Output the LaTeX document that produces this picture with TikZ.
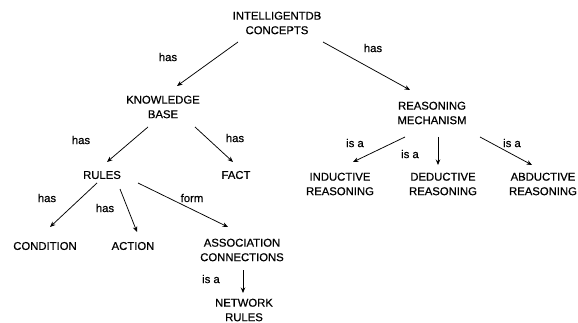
\documentclass[tikz,border=0pt]{standalone}
\usepackage{fontspec}
\setmainfont[FakeBold=0.6]{Liberation Sans}
\usetikzlibrary{arrows.meta}

\begin{document}
\begin{tikzpicture}[
    x=1pt, y=-1pt,
    >=Stealth,
    concept/.style={
        font=\fontsize{11.3}{14.5}\selectfont,
        align=center,
        inner sep=0pt
    },
    rel/.style={font=\fontsize{11.3}{13}\selectfont, inner sep=0pt},
    arrow/.style={-{Stealth[length=5.5pt,width=4.5pt]}, line width=0.75pt, color=black}
]
\useasboundingbox (0,0) rectangle (578,323);

% top of the tree
\node[concept] (concepts) at (277,23) {INTELLIGENTDB\\CONCEPTS};

\node[concept] (kb) at (163,107) {KNOWLEDGE\\BASE};
\node[concept] (rm) at (432,113) {REASONING\\MECHANISM};

% knowledge base side
\node[concept] (rules) at (102,175) {RULES};
\node[concept] (fact) at (236,175) {FACT};
\node[concept] (cond) at (45,246) {CONDITION};
\node[concept] (action) at (133,246) {ACTION};
\node[concept] (assoc) at (242,250) {ASSOCIATION\\CONNECTIONS};
\node[concept] (network) at (244,310) {NETWORK\\RULES};

% reasoning side
\node[concept] (induct) at (340,184) {INDUCTIVE\\REASONING};
\node[concept] (deduct) at (443,184) {DEDUCTIVE\\REASONING};
\node[concept] (abduct) at (543,184) {ABDUCTIVE\\REASONING};

% relation labels
\node[rel] (hasA) at (168,57) {has};
\node[rel] (hasB) at (373,48) {has};
\node[rel] (hasC) at (81,140) {has};
\node[rel] (hasD) at (235,138) {has};
\node[rel] (hasE) at (47,198) {has};
\node[rel] (hasF) at (105,208) {has};
\node[rel] (form) at (192,198) {form};
\node[rel] (isaA) at (211,279) {is a};
\node[rel] (isaB) at (355,143) {is a};
\node[rel] (isaC) at (410,154) {is a};
\node[rel] (isaD) at (512,143) {is a};

\draw[arrow] ([shift={(-39,19)}]concepts.center) -- ([shift={(14,-21)}]kb.center);
\draw[arrow] ([shift={(46,19)}]concepts.center) -- ([shift={(-22,-23)}]rm.center);
\draw[arrow] ([shift={(-15,20)}]kb.center) -- ([shift={(5,-13)}]rules.center);
\draw[arrow] ([shift={(32,20)}]kb.center) -- ([shift={(-3,-13)}]fact.center);
\draw[arrow] ([shift={(-5,8)}]rules.center) -- ([shift={(5,-19)}]cond.center);
\draw[arrow] ([shift={(18,14)}]rules.center) -- ([shift={(4,-14)}]action.center);
\draw[arrow] ([shift={(36,8)}]rules.center) -- ([shift={(-14,-23)}]assoc.center);
\draw[arrow] ([shift={(1,20)}]assoc.center) -- ([shift={(-1,-17)}]network.center);
\draw[arrow] ([shift={(-27,24)}]rm.center) -- ([shift={(13,-22)}]induct.center);
\draw[arrow] ([shift={(6,24)}]rm.center) -- ([shift={(-5,-19)}]deduct.center);
\draw[arrow] ([shift={(48,24)}]rm.center) -- ([shift={(-11,-19)}]abduct.center);

\end{tikzpicture}
\end{document}
